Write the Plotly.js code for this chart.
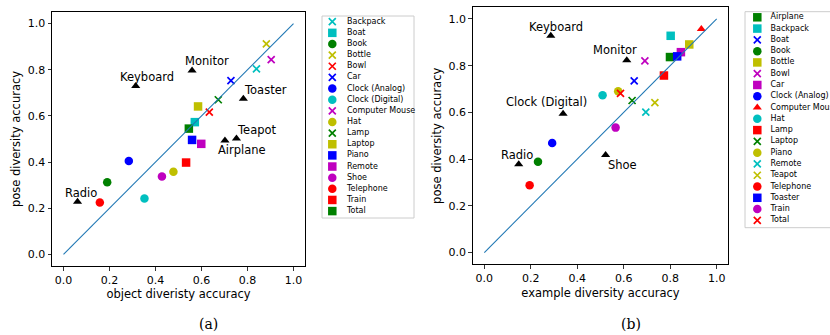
<!DOCTYPE html>
<html>
<head>
<meta charset="utf-8">
<script src="https://cdn.plot.ly/plotly-3.0.1.min.js"></script>
<style>html,body{margin:0;padding:0;background:#fff;}#chart{width:830px;height:335px;}</style>
</head>
<body>
<div id="chart"></div>
<script>
// ---------- Data: (a) object diversity ----------
const aNames = ["Backpack","Boat","Book","Bottle","Bowl","Car","Clock (Analog)","Clock (Digital)","Computer Mouse","Hat","Lamp","Laptop","Piano","Remote","Shoe","Telephone","Train","Total"];
const aX = [0.839,0.571,0.190,0.882,0.634,0.728,0.284,0.352,0.903,0.478,0.673,0.585,0.559,0.599,0.428,0.158,0.533,0.545];
const aY = [0.804,0.573,0.313,0.912,0.616,0.753,0.405,0.242,0.844,0.358,0.670,0.641,0.496,0.479,0.338,0.225,0.398,0.545];
const aOutNames = ["Radio","Keyboard","Monitor","Toaster","Teapot","Airplane"];
const aOutX = [0.061,0.314,0.559,0.782,0.752,0.702];
const aOutY = [0.228,0.729,0.797,0.674,0.502,0.494];

// ---------- Data: (b) example diversity ----------
const bNames = ["Airplane","Backpack","Boat","Book","Bottle","Bowl","Car","Clock (Analog)","Computer Mouse","Hat","Lamp","Laptop","Piano","Remote","Teapot","Telephone","Toaster","Train","Total"];
const bX = [0.799,0.802,0.645,0.231,0.882,0.691,0.846,0.292,0.934,0.509,0.773,0.636,0.576,0.695,0.734,0.195,0.830,0.565,0.586];
const bY = [0.837,0.928,0.735,0.389,0.891,0.821,0.858,0.469,0.957,0.674,0.758,0.651,0.691,0.601,0.642,0.288,0.840,0.535,0.682];
const bOutNames = ["Keyboard","Monitor","Clock (Digital)","Radio","Shoe"];
const bOutX = [0.286,0.613,0.339,0.148,0.522];
const bOutY = [0.928,0.823,0.594,0.378,0.418];

const diagX = [0, 1];
const diagY = [0, 1];
const tickVals = [0, 0.2, 0.4, 0.6, 0.8, 1.0];

// ---------- Styles ----------
const C = {c:"#00bfbf", m:"#bf00bf", y:"#bfbf00", g:"#008000", b:"#0000ff", r:"#ff0000", k:"#000000"};
const aStyle = {
  "Backpack":["c","x"],"Boat":["c","s"],"Book":["g","o"],"Bottle":["y","x"],"Bowl":["r","x"],"Car":["b","x"],
  "Clock (Analog)":["b","o"],"Clock (Digital)":["c","o"],"Computer Mouse":["m","x"],"Hat":["y","o"],"Lamp":["g","x"],
  "Laptop":["y","s"],"Piano":["b","s"],"Remote":["m","s"],"Shoe":["m","o"],"Telephone":["r","o"],"Train":["r","s"],"Total":["g","s"]
};
const bStyle = {
  "Airplane":["g","s"],"Backpack":["c","s"],"Boat":["b","x"],"Book":["g","o"],"Bottle":["y","s"],"Bowl":["m","x"],
  "Car":["m","s"],"Clock (Analog)":["b","o"],"Computer Mouse":["r","^"],"Hat":["c","o"],"Lamp":["r","s"],"Laptop":["g","x"],
  "Piano":["y","o"],"Remote":["c","x"],"Teapot":["y","x"],"Telephone":["r","o"],"Toaster":["b","s"],"Train":["m","o"],"Total":["r","x"]
};
// label offsets in px (dx, dy up)
const aLabelOff = {"Radio":[3,9],"Keyboard":[11,9],"Monitor":[15,9],"Toaster":[22,9],"Teapot":[21,9],"Airplane":[17,-10]};
const bLabelOff = {"Keyboard":[5,9],"Monitor":[-12,10],"Clock (Digital)":[-17,12],"Radio":[-2,9],"Shoe":[17,-10]};

const SYM = {x:"x-thin-open", s:"square", o:"circle", "^":"triangle-up"};
const SIZE = {x:7, s:8.5, o:8.5, "^":8};
function markerFor(code, color) {
  const col = C[color];
  return {symbol:SYM[code], size:SIZE[code], color:col, opacity:1,
    line:{color:col, width:code === "x" ? 1.7 : 0}};
}

const W = 830, H = 335;
const px = v => v / W;
const py = v => (H - v) / H;

const traces = [];
function addPlot(names, xs, ys, style, outNames, outX, outY, xa, ya) {
  names.forEach((n, i) => {
    const s = style[n];
    traces.push({type:"scatter", mode:"markers", x:[xs[i]], y:[ys[i]], name:n, showlegend:false,
      xaxis:xa, yaxis:ya, marker:markerFor(s[1], s[0]), cliponaxis:false, hoverinfo:"skip"});
  });
  traces.push({type:"scatter", mode:"markers", x:outX, y:outY, text:outNames, showlegend:false,
    xaxis:xa, yaxis:ya, marker:markerFor("^", "k"), cliponaxis:false, hoverinfo:"skip"});
  traces.push({type:"scatter", mode:"lines", x:diagX, y:diagY, showlegend:false, xaxis:xa, yaxis:ya,
    line:{color:"#1f77b4", width:1.1}, hoverinfo:"skip"});
}
addPlot(aNames, aX, aY, aStyle, aOutNames, aOutX, aOutY, "x", "y");
addPlot(bNames, bX, bY, bStyle, bOutNames, bOutX, bOutY, "x2", "y2");

// legends as small subplots
function addLegend(names, style, xa, ya, mx, tx) {
  const idx = names.map((_, i) => -i);
  names.forEach((n, i) => {
    const s = style[n];
    traces.push({type:"scatter", mode:"markers", x:[mx], y:[idx[i]], xaxis:xa, yaxis:ya, showlegend:false,
      hoverinfo:"skip", cliponaxis:false, marker:markerFor(s[1], s[0])});
  });
  traces.push({type:"scatter", mode:"text", x:names.map(() => tx), y:idx, text:names, textposition:"middle right",
    xaxis:xa, yaxis:ya, showlegend:false, hoverinfo:"skip", cliponaxis:false,
    textfont:{family:"DejaVu Sans", size:8, color:"#000"}});
}
addLegend(aNames, aStyle, "x3", "y3", 10.3, 25);
addLegend(bNames, bStyle, "x4", "y4", 12.3, 25.5);

const fontMain = {family:"DejaVu Sans", size:11, color:"#000"};
function mainAxis(domain, anchor, title) {
  return {domain:domain, anchor:anchor, range:[-0.05, 1.05], tickvals:tickVals, tickformat:".1f",
    ticks:"outside", ticklen:3.5, tickwidth:0.8, tickcolor:"#000", showline:true, mirror:true,
    linecolor:"#000", linewidth:1, showgrid:false, zeroline:false, tickfont:fontMain,
    title:{text:title, font:{family:"DejaVu Sans", size:11.5, color:"#000"}, standoff:4}, automargin:false, fixedrange:true};
}
function hiddenAxis(domain, anchor, range) {
  return {domain:domain, anchor:anchor, range:range, visible:false, fixedrange:true};
}

const annotations = [];
function addLabels(names, xs, ys, off, xr, yr) {
  names.forEach((n, i) => {
    annotations.push({x:xs[i], y:ys[i], xref:xr, yref:yr, text:n, showarrow:false, xanchor:"center", yanchor:"middle",
      xshift:off[n][0], yshift:off[n][1], font:{family:"DejaVu Sans", size:11.5, color:"#000"}});
  });
}
addLabels(aOutNames, aOutX, aOutY, aLabelOff, "x", "y");
addLabels(bOutNames, bOutX, bOutY, bLabelOff, "x2", "y2");
annotations.push({x:px(208), y:py(324), xref:"paper", yref:"paper", text:"(a)", showarrow:false,
  xanchor:"center", yanchor:"middle", font:{family:"DejaVu Serif", size:14, color:"#000"}});
annotations.push({x:px(631), y:py(324), xref:"paper", yref:"paper", text:"(b)", showarrow:false,
  xanchor:"center", yanchor:"middle", font:{family:"DejaVu Serif", size:14, color:"#000"}});

const layout = {
  width:W, height:H, margin:{l:0, r:0, t:0, b:0}, paper_bgcolor:"#fff", plot_bgcolor:"rgba(0,0,0,0)",
  showlegend:false, font:fontMain,
  xaxis: mainAxis([px(52), px(305)], "y", "object diveristy accuracy"),
  yaxis: mainAxis([py(266), py(12)], "x", "pose diversity accuracy"),
  xaxis2: mainAxis([px(472.7), px(728.3)], "y2", "example diversity accuracy"),
  yaxis2: mainAxis([py(264.3), py(7.3)], "x2", "pose diversity accuracy"),
  xaxis3: hiddenAxis([px(322), px(414)], "y3", [0, 92]),
  yaxis3: hiddenAxis([py(218), py(16)], "x3", [-17.62, 0.512]),
  xaxis4: hiddenAxis([px(745), 1], "y4", [0, 85]),
  yaxis4: hiddenAxis([py(227.7), py(11.7)], "x4", [-18.65, 0.496]),
  shapes:[
    {type:"rect", xref:"paper", yref:"paper", x0:px(322), x1:px(414), y0:py(218), y1:py(16),
      line:{color:"#cccccc", width:1}, fillcolor:"#fff", layer:"below"},
    {type:"rect", xref:"paper", yref:"paper", x0:px(745), x1:px(840), y0:py(227.7), y1:py(11.7),
      line:{color:"#cccccc", width:1}, fillcolor:"#fff", layer:"below"}
  ],
  annotations:annotations
};
Plotly.newPlot("chart", traces, layout, {staticPlot:true, displayModeBar:false});
</script>
</body>
</html>
